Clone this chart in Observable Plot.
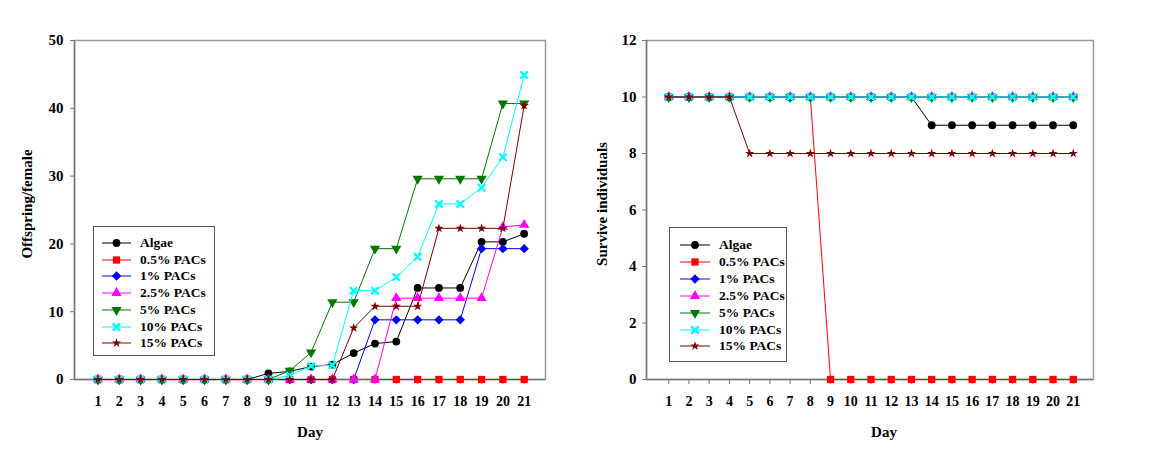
<!DOCTYPE html>
<html>
<head>
<meta charset="utf-8">
<script src="https://cdn.jsdelivr.net/npm/d3@7"></script>
<script src="https://cdn.jsdelivr.net/npm/@observablehq/plot@0.6"></script>
<style>
  body { margin: 0; background: #fff; }
  #wrap { position: relative; width: 1155px; height: 455px; overflow: hidden;
          font-family: "Liberation Serif", "Times New Roman", serif; font-weight: bold; color: #000; }
  .chart { position: absolute; top: 0; }
  .title { position: absolute; font-size: 15px; font-weight: bold; white-space: nowrap; line-height: 1; }
  .ytitle { transform: translate(-50%, -50%) rotate(-90deg); }
  .xtitle { transform: translate(-50%, -50%); }
  .legend { position: absolute; border: 1.5px solid #555; background: #fff; box-sizing: border-box; }
  .legend .row { position: absolute; left: 0; height: 14px; display: flex; align-items: center; }
  .legend .row span { font-size: 13.5px; font-weight: bold; white-space: nowrap; }
</style>
</head>
<body>
<div id="wrap"></div>
<script>
// ---------------- data ----------------
const days = [1,2,3,4,5,6,7,8,9,10,11,12,13,14,15,16,17,18,19,20,21];
const seriesNames = ["Algae", "0.5% PACs", "1% PACs", "2.5% PACs", "5% PACs", "10% PACs", "15% PACs"];

// Offspring/female (left panel)
const algaeOff = [0,0,0,0,0,0,0,0,0.9,1.2,1.9,2.2,3.9,5.3,5.6,13.5,13.5,13.5,20.3,20.3,21.5];
const pac05Off = [0,0,0,0,0,0,0,0,0,0,0,0,0,0,0,0,0,0,0,0,0];
const pac1Off  = [0,0,0,0,0,0,0,0,0,0,0,0,0,8.8,8.8,8.8,8.8,8.8,19.3,19.3,19.3];
const pac25Off = [0,0,0,0,0,0,0,0,0,0,0,0,0,0,12.0,12.0,12.0,12.0,12.0,22.5,22.8];
const pac5Off  = [0,0,0,0,0,0,0,0,0,1.3,4.0,11.4,11.4,19.3,19.3,29.6,29.6,29.6,29.6,40.7,40.7];
const pac10Off = [0,0,0,0,0,0,0,0,0,0.6,2.0,2.1,13.1,13.1,15.1,18.1,25.9,25.9,28.3,32.8,44.9];
const pac15Off = [0,0,0,0,0,0,0,0,0,0,0,0,7.6,10.8,10.8,10.8,22.3,22.3,22.3,22.3,40.4];

// Survive individuals (right panel)
const algaeSurv = [10,10,10,10,10,10,10,10,10,10,10,10,10,9,9,9,9,9,9,9,9];
const pac05Surv = [10,10,10,10,10,10,10,10,0,0,0,0,0,0,0,0,0,0,0,0,0];
const pac1Surv  = [10,10,10,10,10,10,10,10,10,10,10,10,10,10,10,10,10,10,10,10,10];
const pac25Surv = [10,10,10,10,10,10,10,10,10,10,10,10,10,10,10,10,10,10,10,10,10];
const pac5Surv  = [10,10,10,10,10,10,10,10,10,10,10,10,10,10,10,10,10,10,10,10,10];
const pac10Surv = [10,10,10,10,10,10,10,10,10,10,10,10,10,10,10,10,10,10,10,10,10];
const pac15Surv = [10,10,10,10,8,8,8,8,8,8,8,8,8,8,8,8,8,8,8,8,8];

const offTicks = [0, 10, 20, 30, 40, 50];
const survTicks = [0, 2, 4, 6, 8, 10, 12];

// ---------------- styles ----------------
const styles = [
  {color: "#000000", symbol: "circle",   r: 3.9, rotate: 0},
  {color: "#ff0000", symbol: "square",   r: 4.1, rotate: 0},
  {color: "#0000ff", symbol: "diamond2", r: 4.2, rotate: 0},
  {color: "#ff00ff", symbol: "triangle", r: 3.8, rotate: 0},
  {color: "#007800", symbol: "triangle", r: 3.8, rotate: 180},
  {color: "#00ffff", symbol: "times",    r: 3.4, rotate: 0, strokeOnly: true},
  {color: "#7a0000", symbol: "star",     r: 2.9, rotate: 0}
];

const xDomain = [-0.1, 22];

function tidy(arrays) {
  return arrays.map((vals, i) => days.map((d, j) => ({day: d, value: vals[j], series: seriesNames[i]})));
}

function seriesMarks(sets) {
  const marks = [];
  sets.forEach((data, i) => {
    const s = styles[i];
    marks.push(Plot.line(data, {x: "day", y: "value", stroke: s.color, strokeWidth: 1}));
    if (s.strokeOnly) {
      marks.push(Plot.dot(data, {x: "day", y: "value", symbol: s.symbol, r: s.r, fill: "none", stroke: s.color, strokeWidth: 2.4}));
    } else {
      marks.push(Plot.dot(data, {x: "day", y: "value", symbol: s.symbol, r: s.r, fill: s.color, stroke: "none", rotate: s.rotate}));
    }
  });
  return marks;
}

function makeChart(opts) {
  return Plot.plot({
    width: opts.width, height: 455,
    marginLeft: opts.marginLeft, marginRight: opts.marginRight, marginTop: 40, marginBottom: 76,
    x: {domain: xDomain, label: null},
    y: {domain: opts.yDomain, label: null},
    style: {fontFamily: "'Liberation Serif', 'Times New Roman', serif", fontWeight: "bold", fontSize: "14px", color: "#000", background: "transparent"},
    marks: [
      Plot.frame({stroke: "#9a9a9a", strokeWidth: 1.5}),
      Plot.ruleY([opts.yDomain[0]], {stroke: "#777", strokeWidth: 1.5}),
      Plot.ruleX([xDomain[0]], {stroke: "#777", strokeWidth: 1.5}),
      Plot.axisX({ticks: days, tickSize: 5, tickPadding: 12, stroke: "#777", fill: "#000", fontSize: 14, label: null, tickFormat: d => String(d)}),
      Plot.axisY({ticks: opts.yTicks, tickSize: 4, tickPadding: opts.yPad, stroke: "#777", fill: "#000", fontSize: 15, label: null, tickFormat: d => String(d)}),
      ...seriesMarks(opts.sets)
    ]
  });
}

const wrap = document.getElementById("wrap");

function place(el, left) {
  const d = document.createElement("div");
  d.className = "chart";
  d.style.left = left + "px";
  d.appendChild(el);
  wrap.appendChild(d);
}

place(makeChart({
  width: 577, marginLeft: 74, marginRight: 32, yDomain: [0, 50], yTicks: offTicks, yPad: 7,
  sets: tidy([algaeOff, pac05Off, pac1Off, pac25Off, pac5Off, pac10Off, pac15Off])
}), 0);

place(makeChart({
  width: 578, marginLeft: 69, marginRight: 62, yDomain: [0, 12], yTicks: survTicks, yPad: 6,
  sets: tidy([algaeSurv, pac05Surv, pac1Surv, pac25Surv, pac5Surv, pac10Surv, pac15Surv])
}), 577);

function addTitle(text, x, y, cls) {
  const t = document.createElement("div");
  t.className = "title " + cls;
  t.style.left = x + "px";
  t.style.top = y + "px";
  t.textContent = text;
  wrap.appendChild(t);
}
addTitle("Offspring/female", 27, 204, "ytitle");
addTitle("Survive individuals", 602, 204, "ytitle");
addTitle("Day", 310, 432, "xtitle");
addTitle("Day", 884, 432, "xtitle");

function symbolPath(s) {
  const type = {circle: d3.symbolCircle, square: d3.symbolSquare, diamond2: d3.symbolDiamond2,
                triangle: d3.symbolTriangle, times: d3.symbolTimes, star: d3.symbolStar}[s.symbol];
  return d3.symbol(type, Math.PI * s.r * s.r)();
}

function addLegend(cfg) {
  const box = document.createElement("div");
  box.className = "legend";
  Object.assign(box.style, {left: cfg.left + "px", top: cfg.top + "px", width: cfg.width + "px", height: cfg.height + "px"});
  seriesNames.forEach((name, i) => {
    const s = styles[i];
    const row = document.createElement("div");
    row.className = "row";
    row.style.top = (cfg.firstRow + i * cfg.rowGap - 7) + "px";
    const w = cfg.textX - 2;
    const svg = d3.create("svg").attr("width", w).attr("height", 14);
    svg.append("line").attr("x1", cfg.lineX1).attr("x2", cfg.lineX2).attr("y1", 7).attr("y2", 7)
      .attr("stroke", s.color).attr("stroke-width", 1);
    const p = svg.append("path").attr("d", symbolPath(s))
      .attr("transform", `translate(${(cfg.lineX1 + cfg.lineX2) / 2},7) rotate(${s.rotate})`);
    if (s.strokeOnly) p.attr("fill", "none").attr("stroke", s.color).attr("stroke-width", 2.4);
    else p.attr("fill", s.color);
    row.appendChild(svg.node());
    const sp = document.createElement("span");
    sp.style.marginLeft = "2px";
    sp.textContent = name;
    row.appendChild(sp);
    box.appendChild(row);
  });
  wrap.appendChild(box);
}

addLegend({left: 93, top: 226, width: 122, height: 130, firstRow: 16, rowGap: 16.7, lineX1: 8, lineX2: 37, textX: 46});
addLegend({left: 669, top: 227, width: 118, height: 135, firstRow: 17, rowGap: 16.9, lineX1: 10, lineX2: 40, textX: 49});
</script>
</body>
</html>
